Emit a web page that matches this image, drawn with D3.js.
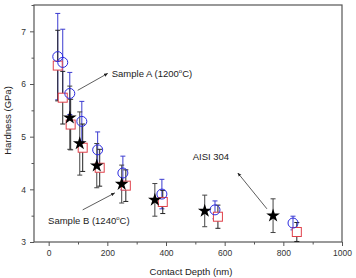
<!DOCTYPE html>
<html>
<head>
<meta charset="utf-8">
<script src="https://cdn.jsdelivr.net/npm/d3@7"></script>
<style>
	body { margin: 0; background: #fff; }
	svg { font-family: "Liberation Sans", Arial, sans-serif; }
</style>
</head>
<body>
<div class="chart"></div>
<script>
// sample A (circles), square series, sample B (stars)
var depthA = [31, 48, 72, 113, 167, 253, 386, 567, 833];
var hardA = [6.52, 6.41, 5.82, 5.29, 4.75, 4.31, 3.91, 3.61, 3.36];
var errA = [0.82, 0.63, 0.40, 0.38, 0.34, 0.32, 0.28, 0.17, 0.13];

var depthSq = [31, 48, 75, 116, 174, 263, 389, 577, 846];
var hardSq = [6.35, 5.74, 5.23, 4.79, 4.41, 4.07, 3.76, 3.48, 3.19];
var errSq = [0.67, 0.50, 0.48, 0.45, 0.35, 0.30, 0.22, 0.22, 0.18];

var depthB = [72, 106, 164, 249, 362, 532, 765];
var hardB = [5.36, 4.87, 4.45, 4.10, 3.80, 3.59, 3.50];
var errB = [0.60, 0.60, 0.42, 0.36, 0.31, 0.30, 0.32];

var xTicks = [0, 200, 400, 600, 800, 1000];
var yTicks = [3, 4, 5, 6, 7];

var W = 356, H = 278;
var m = {left: 34, right: 14, top: 5, bottom: 36};

var svg = d3.select(".chart").append("svg")
	.attr("width", W)
	.attr("height", H);

var x = d3.scaleLinear().domain([-50, 1000]).range([m.left, W - m.right]);
var y = d3.scaleLinear().domain([3, 7.5]).range([H - m.bottom, m.top]);

function zip(xs, ys, es) {
	return xs.map(function(d, i) { return {x: d, y: ys[i], e: es[i]}; });
}

// axes
var xAxis = d3.axisBottom(x).tickValues(xTicks).tickSize(4).tickPadding(4).tickFormat(d3.format("d"));
var xMinor = d3.axisBottom(x).tickValues([100, 300, 500, 700, 900]).tickSize(2.5).tickFormat("");
var yAxis = d3.axisLeft(y).tickValues(yTicks).tickSize(4).tickPadding(4).tickFormat(d3.format("d"));
var yMinor = d3.axisLeft(y).tickValues([3.5, 4.5, 5.5, 6.5, 7.5]).tickSize(2.5).tickFormat("");

function styleAxis(g) {
	g.select(".domain").remove();
	g.selectAll("line").attr("stroke", "#555").attr("stroke-width", 1);
	g.selectAll("text").attr("fill", "#333").style("font-size", "8.5px");
}

svg.append("g").attr("transform", "translate(0," + y(3) + ")").call(xAxis).call(styleAxis);
svg.append("g").attr("transform", "translate(0," + y(3) + ")").call(xMinor).call(styleAxis);
svg.append("g").attr("transform", "translate(" + m.left + ",0)").call(yAxis).call(styleAxis);
svg.append("g").attr("transform", "translate(" + m.left + ",0)").call(yMinor).call(styleAxis);

svg.append("rect")
	.attr("x", m.left).attr("y", m.top)
	.attr("width", W - m.right - m.left)
	.attr("height", y(3) - m.top)
	.attr("fill", "none")
	.attr("stroke", "#555")
	.attr("stroke-width", 1.2);

svg.append("text")
	.attr("x", (x(-50) + x(1000)) / 2 + 3)
	.attr("y", 275)
	.attr("text-anchor", "middle")
	.attr("fill", "#222")
	.style("font-size", "9.5px")
	.text("Contact Depth (nm)");

svg.append("text")
	.attr("transform", "translate(11," + (y(5.25) - 3) + ") rotate(-90)")
	.attr("text-anchor", "middle")
	.attr("fill", "#222")
	.style("font-size", "9.5px")
	.text("Hardness (GPa)");

// error bars
function drawErr(data, color, width) {
	var g = svg.append("g").attr("stroke", color).attr("stroke-width", width);
	data.forEach(function(d) {
		g.append("line").attr("x1", x(d.x)).attr("x2", x(d.x))
			.attr("y1", y(d.y - d.e)).attr("y2", y(d.y + d.e));
		[d.y - d.e, d.y + d.e].forEach(function(v) {
			g.append("line").attr("x1", x(d.x) - 2.5).attr("x2", x(d.x) + 2.5)
				.attr("y1", y(v)).attr("y2", y(v));
		});
	});
}

var dataA = zip(depthA, hardA, errA);
var dataSq = zip(depthSq, hardSq, errSq);
var dataB = zip(depthB, hardB, errB);

drawErr(dataA, "#3b3bd0", 1);
drawErr(dataSq, "#222", 1);
drawErr(dataB, "#444", 1);

svg.append("g").selectAll("rect").data(dataSq).enter().append("rect")
	.attr("x", function(d) { return x(d.x) - 4.5; })
	.attr("y", function(d) { return y(d.y) - 4.5; })
	.attr("width", 9).attr("height", 9)
	.attr("fill", "#fff")
	.attr("stroke", "#e0404a")
	.attr("stroke-width", 1);

svg.append("g").selectAll("circle").data(dataA).enter().append("circle")
	.attr("cx", function(d) { return x(d.x); })
	.attr("cy", function(d) { return y(d.y); })
	.attr("r", 5)
	.attr("fill", "none")
	.attr("stroke", "#2a2ae0")
	.attr("stroke-width", 1);

svg.append("g").selectAll("path").data(dataB).enter().append("path")
	.attr("transform", function(d) { return "translate(" + x(d.x) + "," + y(d.y) + ")"; })
	.attr("d", d3.symbol().type(d3.symbolStar).size(58))
	.attr("fill", "#000");

// annotations
svg.append("defs").append("marker")
	.attr("id", "arr")
	.attr("viewBox", "0 0 10 10")
	.attr("refX", 9).attr("refY", 5)
	.attr("markerWidth", 5).attr("markerHeight", 5)
	.attr("orient", "auto")
	.append("path").attr("d", "M0,1 L10,5 L0,9 Z").attr("fill", "#222");

var notes = [
	{txt: "Sample A (1200", x: 215, y: 6.13, ax1: 99, ay1: 5.88, ax2: 201, ay2: 6.2},
	{txt: "Sample B (1240", x: -2, y: 3.35, ax1: 116, ay1: 3.61, ax2: 225, ay2: 3.93},
	{txt: "AISI 304", x: 491, y: 4.55, ax1: 744, ay1: 3.63, ax2: 645, ay2: 4.31}
];

notes.forEach(function(n) {
	var t = svg.append("text")
		.attr("x", x(n.x)).attr("y", y(n.y))
		.attr("fill", "#222")
		.style("font-size", "9.5px")
		.text(n.txt);
	if (n.txt != "AISI 304") {
		t.append("tspan").attr("dy", -4).style("font-size", "6px").text("o");
		t.append("tspan").attr("dy", 4).text("C)");
	}
	svg.append("line")
		.attr("x1", x(n.ax1)).attr("y1", y(n.ay1))
		.attr("x2", x(n.ax2)).attr("y2", y(n.ay2))
		.attr("stroke", "#333").attr("stroke-width", 0.8)
		.attr("marker-end", "url(#arr)");
});
</script>
</body>
</html>
